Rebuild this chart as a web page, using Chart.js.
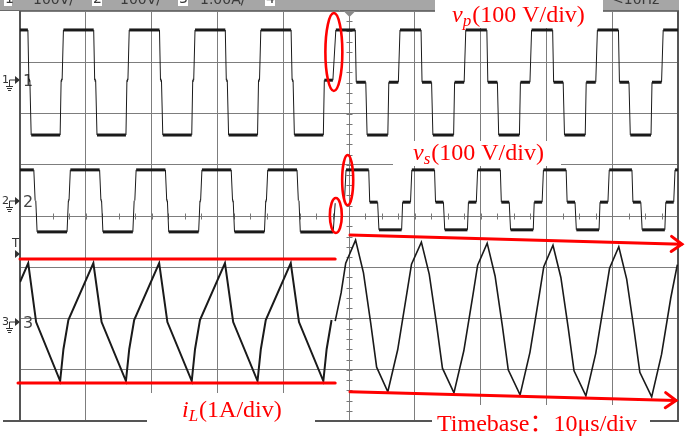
<!DOCTYPE html>
<html><head><meta charset="utf-8">
<script src="https://cdn.jsdelivr.net/npm/chart.js@4"></script>
<style>html,body{margin:0;padding:0;background:#fff}#wrap{width:685px;height:440px;position:relative}</style>
</head><body><div id="wrap"><canvas id="c"></canvas></div>
<script>
// ---------- data (time in µs, amplitude in screen divisions, 0 = centre line) ----------
const timeTicks = [0,10,20,30,40,50,60,70,80,90,100];
const divTicks = [-4,-3,-2,-1,0,1,2,3,4];

// v_p, left capture (two-level)
const vpLeftT = [0,1.2,1.35,1.5,1.7,6.1,6.25,6.4,6.6,
 11.2,11.35,11.5,11.7,16.1,16.25,16.4,16.6,
 21.2,21.35,21.5,21.7,26.1,26.25,26.4,26.6,
 31.2,31.35,31.5,31.7,36.1,36.25,36.4,36.6,
 41.2,41.35,41.5,41.7,46.1,46.25,47.55,48.0];
const vpLeftV = [3.63,3.63,2.65,2.65,1.58,1.58,2.65,2.65,3.63,
 3.63,2.65,2.65,1.58,1.58,2.65,2.65,3.63,
 3.63,2.65,2.65,1.58,1.58,2.65,2.65,3.63,
 3.63,2.65,2.65,1.58,1.58,2.65,2.65,3.63,
 3.63,2.65,2.65,1.58,1.58,2.65,2.65,3.63];
// v_p, right capture (three-level)
const vpRightT = [48.0,50.95,51.1,52.55,52.75,55.9,56.05,57.5,57.75,
 60.95,61.1,62.55,62.75,65.9,66.05,67.5,67.75,
 70.95,71.1,72.55,72.75,75.9,76.05,77.5,77.75,
 80.95,81.1,82.55,82.75,85.9,86.05,87.5,87.75,
 90.95,91.1,92.55,92.75,95.9,96.05,97.5,97.75,100];
const vpRightV = [3.63,3.63,2.61,2.61,1.58,1.58,2.61,2.61,3.63,
 3.63,2.61,2.61,1.58,1.58,2.61,2.61,3.63,
 3.63,2.61,2.61,1.58,1.58,2.61,2.61,3.63,
 3.63,2.61,2.61,1.58,1.58,2.61,2.61,3.63,
 3.63,2.61,2.61,1.58,1.58,2.61,2.61,3.63,3.63];

// v_s, left capture
const vsLeftT = [0,2.1,2.3,2.4,2.6,7.15,7.35,7.45,7.65,
 12.1,12.3,12.4,12.6,17.15,17.35,17.45,17.65,
 22.1,22.3,22.4,22.6,27.15,27.35,27.45,27.65,
 32.1,32.3,32.4,32.6,37.15,37.35,37.45,37.65,
 42.1,42.3,42.4,42.6,47.6,47.9];
const vsLeftV = [0.9,0.9,0.3,0.3,-0.31,-0.31,0.3,0.3,0.9,
 0.9,0.3,0.3,-0.31,-0.31,0.3,0.3,0.9,
 0.9,0.3,0.3,-0.31,-0.31,0.3,0.3,0.9,
 0.9,0.3,0.3,-0.31,-0.31,0.3,0.3,0.9,
 0.9,0.3,0.3,-0.31,-0.31,0.25];
// v_s, right capture
const vsRightT = [49.3,49.55,53.0,53.15,54.35,54.55,58.0,58.15,59.35,59.55,
 63.0,63.15,64.35,64.55,68.0,68.15,69.35,69.55,
 73.0,73.15,74.35,74.55,78.0,78.15,79.35,79.55,
 83.0,83.15,84.35,84.55,88.0,88.15,89.35,89.55,
 93.0,93.15,94.35,94.55,98.0,98.15,99.35,99.55,100];
const vsRightV = [0.27,0.9,0.9,0.27,0.27,-0.27,-0.27,0.27,0.27,0.9,
 0.9,0.27,0.27,-0.27,-0.27,0.27,0.27,0.9,
 0.9,0.27,0.27,-0.27,-0.27,0.27,0.27,0.9,
 0.9,0.27,0.27,-0.27,-0.27,0.27,0.27,0.9,
 0.9,0.27,0.27,-0.27,-0.27,0.27,0.27,0.9,0.9];

// i_L, left capture
const iLLeftT = [0,1.25,2.45,6.1,6.6,7.35,11.15,12.4,16.1,16.6,17.35,21.15,22.4,26.1,26.6,27.35,
 31.15,32.4,36.1,36.6,37.35,41.15,42.4,46.1,46.6,47.35];
const iLLeftV = [-1.29,-0.92,-2.07,-3.22,-2.6,-2.03,-0.92,-2.07,-3.22,-2.6,-2.03,-0.92,-2.07,-3.22,-2.6,-2.03,
 -0.92,-2.07,-3.22,-2.6,-2.03,-0.92,-2.07,-3.22,-2.6,-2.03];
// i_L, right capture
const iLRightT = [47.9,48.8,49.5,51.0,52.2,53.3,54.2,55.9,57.4,58.8,59.5,61.0,
 62.2,63.3,64.2,65.95,67.45,68.85,69.55,71.0,72.2,73.3,74.2,76.0,77.5,78.9,79.6,81.0,
 82.2,83.3,84.2,86.0,87.5,88.9,89.6,91.0,92.2,93.3,94.2,96.0,97.5,98.9,99.9];
const iLRightV = [-2.05,-1.5,-0.92,-0.47,-1.11,-2.09,-2.95,-3.43,-2.61,-1.5,-0.94,-0.51,
 -1.14,-2.11,-2.97,-3.45,-2.63,-1.53,-0.96,-0.53,-1.17,-2.14,-3.0,-3.49,-2.66,-1.56,-0.99,-0.57,
 -1.2,-2.17,-3.02,-3.51,-2.68,-1.58,-1.02,-0.6,-1.23,-2.2,-3.05,-3.53,-2.7,-1.6,-0.95];

// red annotations (data units)
const envelopeLines = [ {t:[0,47.9], v:[-0.84,-0.84]}, {t:[-0.3,47.9], v:[-3.26,-3.26]} ];
const driftArrows = [ {t:[50.15,100.6], v:[-0.37,-0.55]}, {t:[50.15,99.7], v:[-3.43,-3.6]} ];
const highlightEllipses = [ {t:47.7, v:3.2, rt:1.29, rv:0.76}, {t:49.8, v:0.70, rt:0.84, rv:0.49}, {t:48.0, v:0.01, rt:0.91, rv:0.34} ];

// ---------- chart ----------
const zip = (t, v) => t.map((x, i) => ({x, y: v[i]}));
const flatWidth = (thick, thin) => c => (Math.abs(c.p0.parsed.y - c.p1.parsed.y) < 1e-6 ? thick : thin);
function trace(label, t, v, thick, thin, color) {
  return {label, data: zip(t, v), showLine: true, borderColor: color, borderWidth: thin,
    pointRadius: 0, tension: 0, fill: false, segment: {borderWidth: flatWidth(thick, thin)}};
}
const RED = '#ff0000';
function ln(ctx, x1, y1, x2, y2) { ctx.beginPath(); ctx.moveTo(x1, y1); ctx.lineTo(x2, y2); ctx.stroke(); }

function chMarker(ctx, ym, n) {
  ctx.fillStyle = '#333'; ctx.strokeStyle = '#333'; ctx.lineWidth = 1;
  ctx.font = '11px "DejaVu Sans"'; ctx.fillText(n, 2, ym + 3);
  ln(ctx, 9.5, ym, 15, ym); ln(ctx, 9.5, ym, 9.5, ym + 6);
  ln(ctx, 6, ym + 6.5, 13, ym + 6.5); ln(ctx, 7, ym + 8.5, 12, ym + 8.5); ln(ctx, 8, ym + 10.5, 11, ym + 10.5);
  ctx.beginPath(); ctx.moveTo(15, ym - 4); ctx.lineTo(20, ym); ctx.lineTo(15, ym + 4); ctx.closePath(); ctx.fill();
  ctx.fillStyle = '#444'; ctx.font = '16px "DejaVu Sans"'; ctx.fillText(n, 23, ym + 6);
}
function subLabel(ctx, x, yb, main, sub, rest, size) {
  ctx.fillStyle = RED;
  ctx.font = `italic ${size}px "Liberation Serif"`; ctx.fillText(main, x, yb); x += ctx.measureText(main).width;
  const ss = Math.round(size * 0.72);
  ctx.font = `italic ${ss}px "Liberation Serif"`; ctx.fillText(sub, x, yb + 4); x += ctx.measureText(sub).width + 1;
  ctx.font = `${size}px "Liberation Serif"`; ctx.fillText(rest, x, yb);
}

const decor = {
  id: 'decor',
  beforeDatasetsDraw(chart) {
    const {ctx, chartArea: a, scales: {x, y}} = chart;
    ctx.save();
    // centre graticule ticks
    ctx.strokeStyle = '#777'; ctx.lineWidth = 1;
    const cx = Math.round(x.getPixelForValue(50)) + 0.5;
    for (let i = 0; i <= 40; i++) { const py = Math.round(y.getPixelForValue(-4 + i * 0.2)) + 0.5; ln(ctx, cx - 3, py, cx + 3, py); }
    const cy = Math.round(y.getPixelForValue(0)) + 0.5;
    for (let i = 0; i <= 40; i++) { const px = Math.round(x.getPixelForValue(i * 2.5)) + 0.5; ln(ctx, px, cy - 3, px, cy + 3); }
    // frame
    ctx.strokeStyle = '#555'; ctx.lineWidth = 2;
    ln(ctx, a.left, a.top, a.left, a.bottom); ln(ctx, a.right, a.top, a.right, a.bottom);
    ln(ctx, 3, a.bottom, a.right + 1, a.bottom);
    // header bar
    ctx.fillStyle = '#a6a6a6'; ctx.fillRect(0, 0, a.right + 1, a.top - 1);
    ctx.strokeStyle = '#6a6a6a'; ctx.lineWidth = 1; ln(ctx, 0, a.top - 0.5, a.right + 1, a.top - 0.5);
    ctx.fillStyle = '#fff';
    [[4,12],[92,102],[178,188],[265,275]].forEach(([p, q]) => ctx.fillRect(p, 0, q - p, 6));
    ctx.fillStyle = '#3a3a3a'; ctx.font = '14px "DejaVu Sans"';
    ctx.fillText('1', 5, 3); ctx.fillText('100V/', 33, 3.5);
    ctx.fillText('2', 93, 3); ctx.fillText('100V/', 120, 3.5);
    ctx.fillText('3', 179, 3); ctx.fillText('1.00A/', 200, 3.5);
    ctx.fillText('4', 266, 3); ctx.fillText('<10Hz', 612, 3.5);
    // white label backgrounds
    ctx.fillStyle = '#fff';
    ctx.fillRect(435, 0, 168, 28); ctx.fillRect(393, 141, 168, 25);
    ctx.fillRect(147, 393, 168, 47); ctx.fillRect(432, 405, 218, 35);
    // trigger position marker
    ctx.fillStyle = '#8a8a8a';
    ctx.beginPath(); ctx.moveTo(cx - 6, a.top); ctx.lineTo(cx + 6, a.top); ctx.lineTo(cx, a.top + 6); ctx.closePath(); ctx.fill();
    // channel markers
    chMarker(ctx, 80, '1'); chMarker(ctx, 201, '2'); chMarker(ctx, 322, '3');
    ctx.fillStyle = '#333'; ctx.font = '12px "DejaVu Sans"'; ctx.fillText('T', 12, 247);
    ctx.beginPath(); ctx.moveTo(15, 250); ctx.lineTo(20, 254); ctx.lineTo(15, 258); ctx.closePath(); ctx.fill();
    ctx.restore();
  },
  afterDatasetsDraw(chart) {
    const {ctx, scales: {x, y}} = chart;
    ctx.save();
    ctx.strokeStyle = RED; ctx.fillStyle = RED; ctx.lineCap = 'round';
    ctx.lineWidth = 3;
    envelopeLines.forEach(l => ln(ctx, x.getPixelForValue(l.t[0]), y.getPixelForValue(l.v[0]), x.getPixelForValue(l.t[1]), y.getPixelForValue(l.v[1])));
    driftArrows.forEach(l => {
      const x0 = x.getPixelForValue(l.t[0]), y0 = y.getPixelForValue(l.v[0]);
      const x1 = x.getPixelForValue(l.t[1]), y1 = y.getPixelForValue(l.v[1]);
      ln(ctx, x0, y0, x1, y1);
      const ang = Math.atan2(y1 - y0, x1 - x0), h = 13, w = 0.62;
      ctx.beginPath();
      ctx.moveTo(x1 - h * Math.cos(ang - w), y1 - h * Math.sin(ang - w));
      ctx.lineTo(x1, y1);
      ctx.lineTo(x1 - h * Math.cos(ang + w), y1 - h * Math.sin(ang + w));
      ctx.stroke();
    });
    ctx.lineWidth = 2.6;
    highlightEllipses.forEach(e => {
      const px = x.getPixelForValue(e.t), py = y.getPixelForValue(e.v);
      const rx = Math.abs(x.getPixelForValue(e.t + e.rt) - px), ry = Math.abs(y.getPixelForValue(e.v + e.rv) - py);
      ctx.beginPath(); ctx.ellipse(px, py, rx, ry, 0, 0, Math.PI * 2); ctx.stroke();
    });
    // labels
    ctx.textBaseline = 'alphabetic';
    subLabel(ctx, 452, 22, 'v', 'p', '(100 V/div)', 24);
    subLabel(ctx, 413, 160, 'v', 's', '(100 V/div)', 24);
    subLabel(ctx, 182, 417, 'i', 'L', '(1A/div)', 24);
    ctx.fillStyle = RED; ctx.font = '24px "Liberation Serif", "Noto Sans CJK SC"';
    ctx.fillText('Timebase：10μs/div', 437, 431);
    ctx.restore();
  }
};

new Chart(document.getElementById('c'), {
  type: 'scatter',
  data: {datasets: [
    trace('v_p left', vpLeftT, vpLeftV, 3, 1, '#1a1a1a'),
    trace('v_p right', vpRightT, vpRightV, 3, 1, '#1a1a1a'),
    trace('v_s left', vsLeftT, vsLeftV, 3, 1, '#1a1a1a'),
    trace('v_s right', vsRightT, vsRightV, 3, 1, '#1a1a1a'),
    trace('i_L left', iLLeftT, iLLeftV, 2, 2, '#1a1a1a'),
    trace('i_L right', iLRightT, iLRightV, 1.6, 1.6, '#1a1a1a')
  ]},
  options: {
    responsive: true, maintainAspectRatio: false, animation: false, events: [],
    layout: {padding: {left: 20, right: 7, top: 11, bottom: 19}},
    plugins: {legend: {display: false}, tooltip: {enabled: false}},
    scales: {
      x: {type: 'linear', min: 0, max: 100,
        afterBuildTicks: s => { s.ticks = timeTicks.map(v => ({value: v})); },
        ticks: {display: false}, grid: {color: '#7d7d7d', lineWidth: 1, drawTicks: false}, border: {display: false}},
      y: {type: 'linear', min: -4, max: 4,
        afterBuildTicks: s => { s.ticks = divTicks.map(v => ({value: v})); },
        ticks: {display: false}, grid: {color: '#7d7d7d', lineWidth: 1, drawTicks: false}, border: {display: false}}
    }
  },
  plugins: [decor]
});
</script></body></html>
